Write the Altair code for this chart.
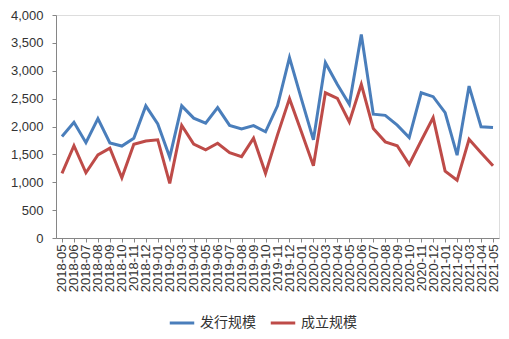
import altair as alt
import pandas as pd

months = ["2018-05","2018-06","2018-07","2018-08","2018-09","2018-10","2018-11","2018-12",
          "2019-01","2019-02","2019-03","2019-04","2019-05","2019-06","2019-07","2019-08",
          "2019-09","2019-10","2019-11","2019-12","2020-01","2020-02","2020-03","2020-04",
          "2020-05","2020-06","2020-07","2020-08","2020-09","2020-10","2020-11","2020-12",
          "2021-01","2021-02","2021-03","2021-04","2021-05"]
issue = [1820, 2075, 1710, 2140, 1705, 1650, 1790, 2370, 2045, 1450, 2370, 2150, 2060, 2340,
         2020, 1955, 2015, 1905, 2370, 3235, 2490, 1760, 3145, 2755, 2400, 3650, 2220, 2200,
         2025, 1800, 2605, 2535, 2250, 1485, 2725, 1995, 1980]
setup = [1160, 1655, 1170, 1490, 1610, 1080, 1680, 1740, 1760, 980, 2020, 1685, 1580, 1700,
         1530, 1460, 1790, 1160, 1850, 2500, 1900, 1295, 2605, 2505, 2080, 2755, 1965, 1725,
         1655, 1320, 1745, 2160, 1200, 1035, 1770, 1530, 1295]
series_names = ["发行规模", "成立规模"]
colors = ["#4A7EBB", "#BE4B48"]

df = pd.DataFrame({
    "month": months * 2,
    "value": issue + setup,
    "series": [series_names[0]] * len(months) + [series_names[1]] * len(months),
})

font = "Liberation Sans"
cjk = "Noto Sans CJK SC"

chart = alt.Chart(df).mark_line(strokeWidth=3).encode(
    x=alt.X("month:N", sort=months, title=None,
            scale=alt.Scale(type="point", padding=0.5),
            axis=alt.Axis(labelAngle=-90, labelFontSize=13, labelColor="#333333",
                          domainColor="#868686", tickColor="#868686", tickSize=4,
                          labelPadding=2, labelFont=font)),
    y=alt.Y("value:Q", title=None,
            scale=alt.Scale(domain=[0, 4000], nice=False),
            axis=alt.Axis(values=list(range(0, 4001, 500)), format=",.0f", grid=False,
                          labelFontSize=13, labelColor="#333333", labelFont=font,
                          domainColor="#868686", tickColor="#868686", tickSize=4,
                          labelPadding=9)),
    color=alt.Color("series:N", sort=series_names,
                    scale=alt.Scale(domain=series_names, range=colors),
                    legend=alt.Legend(title=None, orient="none", direction="horizontal",
                                      legendX=112, legendY=71 + 223,
                                      symbolType="stroke", symbolStrokeWidth=3,
                                      symbolSize=600, labelFontSize=14, labelFont=cjk,
                                      labelColor="#333333", columnPadding=8,
                                      labelOffset=4)),
).properties(
    width=443, height=223,
    autosize=alt.AutoSizeParams(type="none"),
    padding={"left": 56, "top": 15, "right": 10, "bottom": 101},
).configure_view(stroke=None).configure(background="white")

chart.save("out.html", embed_options={"renderer": "svg", "actions": False})
